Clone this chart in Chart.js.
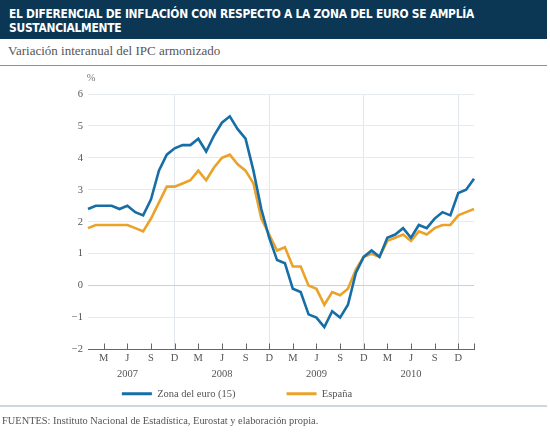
<!DOCTYPE html>
<html>
<head>
<meta charset="utf-8">
<script src="https://cdn.jsdelivr.net/npm/chart.js@4"></script>
<style>
  html, body { margin: 0; padding: 0; background: #fff; }
  body { width: 550px; height: 433px; position: relative; overflow: hidden; }
  .head {
    position: absolute; left: 0; top: 0; width: 547px; height: 39px;
    background: #0b3654; color: #fff;
    font: bold 11.9px "DejaVu Sans Condensed", "DejaVu Sans", sans-serif;
    letter-spacing: -0.25px;
    line-height: 14px; padding: 7px 0 0 9px; box-sizing: border-box;
  }
  .sub {
    position: absolute; left: 8px; top: 43px;
    font: 13px "Liberation Serif", serif; color: #555;
  }
  .rule1 { position: absolute; left: 0; top: 65px; width: 547px; height: 1px; background: #7f95a5; }
  .rule2 { position: absolute; left: 0; top: 405px; width: 547px; height: 2px; background: #ccd8e0; }
  .foot {
    position: absolute; left: 2px; top: 415px;
    font: 10.4px "Liberation Serif", serif; color: #555;
  }
  #wrap { position: absolute; left: 0; top: 66px; width: 550px; height: 343px; }
</style>
</head>
<body>
<div class="head">EL DIFERENCIAL DE INFLACIÓN CON RESPECTO A LA ZONA DEL EURO SE AMPLÍA<br>SUSTANCIALMENTE</div>
<div class="sub">Variación interanual del IPC armonizado</div>
<div class="rule1"></div>
<div id="wrap"><canvas id="chart"></canvas></div>
<div class="rule2"></div>
<div class="foot">FUENTES: Instituto Nacional de Estadística, Eurostat y elaboración propia.</div>

<script>
// ===== DATA (ene 2007 - feb 2011) =====
const years = [2007, 2008, 2009, 2010, 2011];
const monthLetters = ["E", "F", "M", "A", "M", "J", "J", "A", "S", "O", "N", "D"];

const zonaEuro = [
  2.4, 2.5, 2.5, 2.5, 2.4, 2.5, 2.3, 2.2, 2.7, 3.6, 4.1, 4.3,
  4.4, 4.4, 4.6, 4.2, 4.7, 5.1, 5.3, 4.9, 4.6, 3.6, 2.4, 1.5,
  0.8, 0.7, -0.1, -0.2, -0.9, -1.0, -1.3, -0.8, -1.0, -0.6, 0.4, 0.9,
  1.1, 0.9, 1.5, 1.6, 1.8, 1.5, 1.9, 1.8, 2.1, 2.3, 2.2, 2.9,
  3.0, 3.35,
];
const espana = [
  1.8, 1.9, 1.9, 1.9, 1.9, 1.9, 1.8, 1.7, 2.1, 2.6, 3.1, 3.1,
  3.2, 3.3, 3.6, 3.3, 3.7, 4.0, 4.1, 3.8, 3.6, 3.2, 2.1, 1.6,
  1.1, 1.2, 0.6, 0.6, 0.0, -0.1, -0.6, -0.2, -0.3, -0.1, 0.5, 0.9,
  1.0, 0.9, 1.4, 1.5, 1.6, 1.4, 1.7, 1.6, 1.8, 1.9, 1.9, 2.2,
  2.3, 2.4,
];

const yTicks = [-2, -1, 0, 1, 2, 3, 4, 5, 6];

// etiquetas de mes: solo M, J, S, D; el año va bajo junio
const labels = [];
years.forEach((y) => {
  monthLetters.forEach((m, k) => {
    if (labels.length < zonaEuro.length) labels.push({ m: m, k: k, y: y });
  });
});

const BLUE = "#176ea6";
const ORANGE = "#eba229";
const SERIF = "'Liberation Serif', serif";

// marcas del eje hacia arriba + símbolo %
const axisExtras = {
  id: "axisExtras",
  afterDraw(chart) {
    const ctx = chart.ctx;
    const xs = chart.scales.x;
    const area = chart.chartArea;
    ctx.save();
    ctx.strokeStyle = "#666";
    ctx.lineWidth = 1;
    labels.forEach((l, i) => {
      if (l.k % 3 === 2 || i === labels.length - 1) {
        const x = Math.round(xs.getPixelForValue(i)) + 0.5;
        ctx.beginPath();
        ctx.moveTo(x, area.bottom);
        ctx.lineTo(x, area.bottom - 6);
        ctx.stroke();
      }
    });
    ctx.fillStyle = "#777";
    ctx.font = "10.5px " + SERIF;
    ctx.textAlign = "center";
    ctx.textBaseline = "middle";
    ctx.fillText("%", area.left + 3, area.top - 16);
    ctx.restore();
  },
};

new Chart(document.getElementById("chart"), {
  type: "line",
  data: {
    labels: labels.map((l, i) => i),
    datasets: [
      {
        label: "Zona del euro (15)",
        data: zonaEuro,
        borderColor: BLUE,
        backgroundColor: BLUE,
        borderWidth: 2.6,
        pointRadius: 0,
        tension: 0,
      },
      {
        label: "España",
        data: espana,
        borderColor: ORANGE,
        backgroundColor: ORANGE,
        borderWidth: 2.6,
        pointRadius: 0,
        tension: 0,
      },
    ],
  },
  options: {
    responsive: true,
    maintainAspectRatio: false,
    animation: false,
    layout: { padding: { top: 28, right: 76, left: 0, bottom: 0 } },
    plugins: {
      tooltip: { enabled: false },
      legend: {
        position: "bottom",
        labels: {
          font: { family: SERIF, size: 10.5 },
          color: "#555",
          boxWidth: 30,
          boxHeight: 3,
          padding: 9,
          generateLabels(chart) {
            const items = Chart.defaults.plugins.legend.labels.generateLabels(chart);
            items.forEach((it, i) => {
              it.lineWidth = 0;
              it.fillStyle = it.strokeStyle;
              // separación entre las dos entradas
              if (i === 0) it.text = it.text + "\u2003\u2003\u2003\u2003";
            });
            return items;
          },
        },
      },
    },
    scales: {
      x: {
        type: "category",
        offset: false,
        afterFit(scale) {
          scale.height = 30;
        },
        border: { display: true, color: "#666", width: 1 },
        grid: {
          drawTicks: false,
          color: (c) => (c.index % 12 === 11 ? "#e1e7ec" : "rgba(0,0,0,0)"),
        },
        ticks: {
          autoSkip: false,
          maxRotation: 0,
          padding: 0,
          color: "#555",
          font: { family: SERIF, size: 10.5, lineHeight: 1.6 },
          callback: (v, i) => {
            const l = labels[i];
            if (!l) return "";
            if (l.k === 5) return [l.m, String(l.y)];
            if (l.k % 3 === 2) return l.m;
            return "";
          },
        },
      },
      y: {
        min: -2,
        max: 6,
        afterFit(scale) {
          scale.width = 88;
        },
        afterBuildTicks(scale) {
          scale.ticks = yTicks.map((v) => ({ value: v }));
        },
        border: { display: false },
        grid: {
          drawTicks: false,
          color: (c) => {
            const v = c.tick && c.tick.value;
            if (v === -2) return "rgba(0,0,0,0)";
            if (v === 0) return "#c9d0d6";
            return "#e6ebef";
          },
          borderDash: (c) => (c.tick && c.tick.value === 0 ? [6, 5] : []),
        },
        ticks: {
          padding: 5,
          color: "#555",
          font: { family: SERIF, size: 10.5 },
          callback: (v) => String(v).replace("-", "\u2212"),
        },
      },
    },
  },
  plugins: [axisExtras],
});
</script>
</body>
</html>
